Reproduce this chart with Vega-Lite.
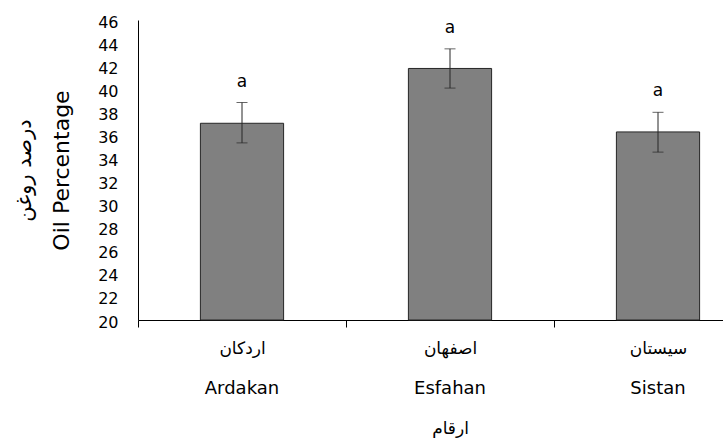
{
  "$schema": "https://vega.github.io/schema/vega-lite/v6.json",
  "width": 624,
  "height": 300,
  "autosize": "none",
  "padding": {"left": 138, "top": 20, "right": -39, "bottom": 120},
  "data": {
    "values": [
      {"name": "Ardakan", "mean": 37.05, "lo": 35.35, "hi": 38.85, "group": "a"},
      {"name": "Esfahan", "mean": 41.8, "lo": 40.1, "hi": 43.5, "group": "a"},
      {"name": "Sistan", "mean": 36.3, "lo": 34.55, "hi": 38.0, "group": "a"}
    ]
  },
  "layer": [
    {
      "mark": {"type": "bar", "fill": "#808080", "stroke": "#262626", "strokeWidth": 1, "width": {"band": 0.4}},
      "encoding": {
        "x": {
          "field": "name", "type": "nominal", "sort": null,
          "scale": {"paddingInner": 0, "paddingOuter": 0},
          "axis": {
            "orient": "bottom",
            "title": "ارقام",
            "titleFontSize": 17,
            "titlePadding": 64,
            "tickBand": "extent",
            "tickExtra": false,
            "ticks": true,
            "tickSize": 7,
            "domain": true,
            "labelAngle": 0,
            "labelFontSize": 17,
            "labelPadding": 13,
            "labelExpr": "datum.value == 'Ardakan' ? 'اردکان' : datum.value == 'Esfahan' ? 'اصفهان' : datum.value == 'Sistan' ? 'سیستان' : ''"
          }
        },
        "y": {
          "field": "mean", "type": "quantitative",
          "scale": {"domain": [20, 46], "nice": false, "zero": false},
          "axis": {
            "orient": "left",
            "title": "Oil Percentage",
            "titleFontSize": 22,
            "titlePadding": 24,
            "values": [20, 22, 24, 26, 28, 30, 32, 34, 36, 38, 40, 42, 44, 46],
            "ticks": false,
            "labelPadding": 20,
            "labelFontSize": 16,
            "labelOffset": 2
          }
        },
        "y2": {"datum": 20}
      }
    },
    {
      "mark": {"type": "rule", "color": "#262626", "strokeWidth": 1},
      "encoding": {
        "x": {
          "field": "name", "type": "nominal", "sort": null,
          "axis": {
            "orient": "bottom",
            "title": null,
            "domain": false,
            "ticks": false,
            "tickSize": 0,
            "labelAngle": 0,
            "labelFontSize": 18,
            "labelPadding": 59
          }
        },
        "y": {
          "field": "lo", "type": "quantitative",
          "axis": {
            "title": "درصد روغن",
            "titleFontSize": 21,
            "titlePadding": 104,
            "orient": "left",
            "labels": false,
            "ticks": false,
            "domain": false
          }
        },
        "y2": {"field": "hi"}
      }
    },
    {
      "mark": {"type": "tick", "color": "#262626", "size": 11, "thickness": 1},
      "encoding": {
        "x": {"field": "name", "type": "nominal", "sort": null, "axis": null},
        "y": {"field": "lo", "type": "quantitative", "axis": null}
      }
    },
    {
      "mark": {"type": "tick", "color": "#262626", "size": 11, "thickness": 1},
      "encoding": {
        "x": {"field": "name", "type": "nominal", "sort": null, "axis": null},
        "y": {"field": "hi", "type": "quantitative", "axis": null}
      }
    },
    {
      "mark": {"type": "text", "font": "DejaVu Sans", "fontSize": 17, "dy": -16, "baseline": "alphabetic", "color": "#000"},
      "encoding": {
        "x": {"field": "name", "type": "nominal", "sort": null, "axis": null},
        "y": {"field": "hi", "type": "quantitative", "axis": null},
        "text": {"field": "group"}
      }
    }
  ],
  "resolve": {"axis": {"x": "independent", "y": "independent"}},
  "config": {
    "view": {"stroke": null},
    "axis": {
      "grid": false,
      "domainColor": "#000",
      "tickColor": "#000",
      "labelColor": "#000",
      "titleColor": "#000",
      "labelFont": "DejaVu Sans",
      "titleFont": "DejaVu Sans",
      "titleFontWeight": "normal"
    }
  }
}
